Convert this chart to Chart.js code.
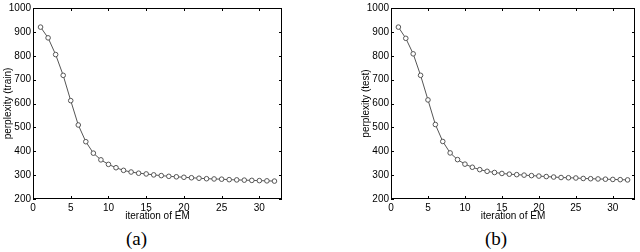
<!DOCTYPE html>
<html>
<head>
<meta charset="utf-8">
<script src="https://cdn.jsdelivr.net/npm/chart.js@4"></script>
<style>
  body { margin: 0; background: #fff; width: 640px; height: 252px; position: relative; overflow: hidden; }
  .box { position: absolute; top: 0; height: 225px; }
  .cap { position: absolute; top: 228px; font-family: "Liberation Serif", serif; font-size: 19px; color: #000; }
</style>
</head>
<body>
<div class="box" style="left:0;width:320px"><canvas id="graficoTrain"></canvas></div>
<div class="box" style="left:358px;width:282px"><canvas id="graficoTest"></canvas></div>
<div class="cap" style="left:126px">(a)</div>
<div class="cap" style="left:485px">(b)</div>
<script>
const iteraciones = [1, 2, 3, 4, 5, 6, 7, 8, 9, 10, 11, 12, 13, 14, 15, 16,
  17, 18, 19, 20, 21, 22, 23, 24, 25, 26, 27, 28, 29, 30, 31, 32];
const perplejidadTrain = [920, 875, 805, 718, 612, 510, 440, 392, 364, 345, 331, 320, 313, 308, 305, 301,
  298, 295, 293, 291, 289, 287, 285, 284, 283, 281, 280, 279, 278, 277, 276, 275];
const perplejidadTest = [920, 873, 808, 718, 615, 512, 441, 393, 365, 346, 333, 323, 316, 311, 307, 304,
  302, 300, 298, 296, 294, 292, 290, 289, 288, 286, 285, 284, 283, 282, 281, 280];

Chart.defaults.font.family = "'Liberation Sans', Arial, sans-serif";
Chart.defaults.font.size = 10;
Chart.defaults.color = "#000";

// marco y ticks hacia adentro, estilo matlab
const marco = {
  id: "marco",
  afterDraw(chart) {
    const { ctx, chartArea: a, scales } = chart;
    ctx.save();
    ctx.strokeStyle = "#000";
    ctx.lineWidth = 1;
    ctx.strokeRect(a.left + 0.5, a.top + 0.5, a.right - a.left - 1, a.bottom - a.top - 1);
    ctx.beginPath();
    scales.x.ticks.forEach((t) => {
      const px = Math.round(scales.x.getPixelForValue(t.value)) + 0.5;
      ctx.moveTo(px, a.bottom); ctx.lineTo(px, a.bottom - 3);
      ctx.moveTo(px, a.top); ctx.lineTo(px, a.top + 3);
    });
    scales.y.ticks.forEach((t) => {
      const py = Math.round(scales.y.getPixelForValue(t.value)) + 0.5;
      ctx.moveTo(a.left, py); ctx.lineTo(a.left + 3, py);
      ctx.moveTo(a.right, py); ctx.lineTo(a.right - 3, py);
    });
    ctx.stroke();
    ctx.restore();
  },
};

function crearGrafico(id, valores, tituloY, derecha) {
  new Chart(document.getElementById(id), {
    type: "line",
    data: {
      labels: iteraciones,
      datasets: [
        {
          data: iteraciones.map((x, i) => ({ x: x, y: valores[i] })),
          borderColor: "#555",
          borderWidth: 1,
          pointRadius: 2.3,
          pointBorderColor: "#555",
          pointBackgroundColor: "#fff",
          pointBorderWidth: 1,
          tension: 0,
        },
      ],
    },
    options: {
      responsive: true,
      maintainAspectRatio: false,
      animation: false,
      layout: { padding: { left: 0, right: derecha, top: 4, bottom: 0 } },
      plugins: { legend: { display: false }, tooltip: { enabled: false } },
      scales: {
        x: {
          type: "linear",
          min: 0,
          max: 33,
          grid: { display: false, drawTicks: false },
          border: { display: false },
          ticks: { stepSize: 5, includeBounds: false, padding: 3, maxRotation: 0 },
          title: { display: true, text: "iteration of EM", padding: { top: 0, bottom: 3 } },
          afterFit: (s) => { s.height = 26; },
        },
        y: {
          min: 200,
          max: 1000,
          grid: { display: false, drawTicks: false },
          border: { display: false },
          ticks: { stepSize: 100, padding: 2, callback: (v) => String(v) },
          title: { display: true, text: tituloY, padding: { top: 2, bottom: 0 } },
          afterFit: (s) => { s.width = 33; },
        },
      },
    },
    plugins: [marco],
  });
}

crearGrafico("graficoTrain", perplejidadTrain, "perplexity (train)", 38);
crearGrafico("graficoTest", perplejidadTest, "perplexity (test)", 1);
</script>
</body>
</html>
